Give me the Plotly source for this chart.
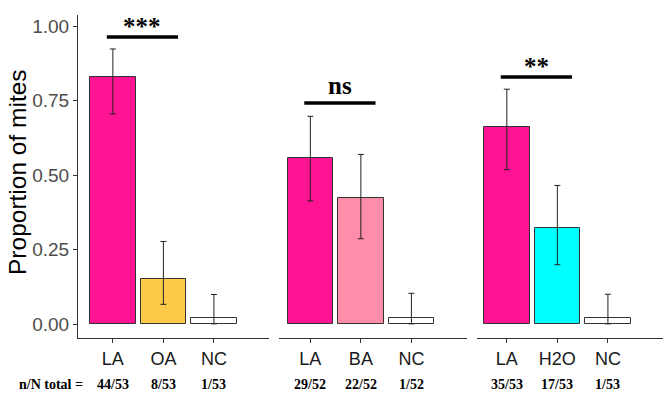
import plotly.graph_objects as go

# ---- data ----
panels = ["LA vs OA", "LA vs BA", "LA vs H2O"]
categories = [["LA", "OA", "NC"], ["LA", "BA", "NC"], ["LA", "H2O", "NC"]]
n_counts = [[44, 8, 1], [29, 22, 1], [35, 17, 1]]
N_totals = [[53, 53, 53], [52, 52, 52], [53, 53, 53]]
ci_upper = [[0.923, 0.277, 0.099], [0.697, 0.569, 0.103], [0.788, 0.465, 0.100]]
ci_lower = [[0.705, 0.066, 0.0005], [0.413, 0.286, 0.0005], [0.518, 0.199, 0.0005]]
bar_colors = [["#FF1493", "#FFC94A", "#FFFFFF"],
              ["#FF1493", "#FF8DAA", "#FFFFFF"],
              ["#FF1493", "#00FFFF", "#FFFFFF"]]
sig_labels = ["***", "ns", "**"]
sig_heights = [0.963, 0.742, 0.829]
y_ticks = [0.00, 0.25, 0.50, 0.75, 1.00]
y_ticktext = ["0.00", "0.25", "0.50", "0.75", "1.00"]

W, H = 669, 409
px_domains = [(78, 269), (279, 467), (477, 663)]
x_ranges = [[-0.69, 3.09], [-0.62, 3.1], [-0.59, 3.09]]

fig = go.Figure()
for i in range(3):
    props = [n / d for n, d in zip(n_counts[i], N_totals[i])]
    plus = [u - p for u, p in zip(ci_upper[i], props)]
    minus = [p - l for p, l in zip(props, ci_lower[i])]
    ax = "" if i == 0 else str(i + 1)
    fig.add_trace(go.Bar(
        x=[0, 1, 2], y=props, width=0.9,
        marker=dict(color=bar_colors[i], line=dict(color="#333333", width=1)),
        error_y=dict(type="data", array=plus, arrayminus=minus, color="#222222",
                     thickness=1, width=3, visible=True),
        xaxis="x" + ax, yaxis="y" + ax, showlegend=False,
    ))

layout = dict(
    width=W, height=H, margin=dict(l=0, r=0, t=0, b=0, autoexpand=False),
    paper_bgcolor="white", plot_bgcolor="white",
    font=dict(family="Liberation Sans, Arial", color="#000000"),
    bargap=0,
)
ydom = [1 - 338 / H, 1 - 15 / H]
for i in range(3):
    ax = "" if i == 0 else str(i + 1)
    d0, d1 = px_domains[i]
    layout["xaxis" + ax] = dict(
        domain=[d0 / W, d1 / W], range=x_ranges[i], automargin=False,
        tickvals=[0, 1, 2], ticktext=categories[i],
        showline=True, linecolor="#333333", linewidth=1,
        ticks="outside", ticklen=4, tickcolor="#333333",
        tickfont=dict(size=18, color="#1a1a1a"), showgrid=False, zeroline=False,
        anchor="y" + ax, fixedrange=True,
    )
    layout["yaxis" + ax] = dict(
        domain=ydom, range=[-0.047, 1.037], automargin=False,
        showgrid=False, zeroline=False, anchor="x" + ax,
        tickvals=y_ticks, ticktext=y_ticktext,
        showline=(i == 0), linecolor="#333333", linewidth=1,
        ticks="outside" if i == 0 else "", ticklen=4, tickcolor="#333333",
        showticklabels=(i == 0),
        tickfont=dict(size=19, color="#4D4D4D"),
    )
fig.update_layout(**layout)

# significance bars
shapes = []
annotations = []
for i in range(3):
    ax = "" if i == 0 else str(i + 1)
    shapes.append(dict(type="line", xref="x" + ax, yref="y" + ax,
                       x0=-0.12, x1=1.29, y0=sig_heights[i], y1=sig_heights[i],
                       line=dict(color="black", width=3.5)))
    if sig_labels[i] == "ns":
        annotations.append(dict(xref="x" + ax, yref="y" + ax, x=0.585, y=sig_heights[i] + 0.008,
                                text="<b>ns</b>", showarrow=False, yanchor="bottom",
                                font=dict(family="Liberation Serif, Times New Roman", size=25, color="black")))
    else:
        annotations.append(dict(xref="x" + ax, yref="y" + ax, x=0.585, y=sig_heights[i] - 0.018,
                                text="<b>" + sig_labels[i] + "</b>", showarrow=False, yanchor="bottom",
                                font=dict(family="Liberation Serif, Times New Roman", size=25, color="black")))
    # n/N labels
    for j in range(3):
        annotations.append(dict(xref="x" + ax, yref="paper", x=j, y=1 - 384 / H,
                                text="<b>%d/%d</b>" % (n_counts[i][j], N_totals[i][j]),
                                showarrow=False, yanchor="middle",
                                font=dict(family="Liberation Serif, Times New Roman", size=14, color="black")))

annotations.append(dict(xref="paper", yref="paper", x=17 / W, y=1 - 384 / H,
                        text="<b>n/N total =</b>", showarrow=False, xanchor="left", yanchor="middle",
                        font=dict(family="Liberation Serif, Times New Roman", size=14, color="black")))
annotations.append(dict(xref="paper", yref="paper", x=18 / W, y=1 - 172 / H,
                        text="Proportion of mites", textangle=-90, showarrow=False,
                        xanchor="center", yanchor="middle",
                        font=dict(family="Liberation Sans, Arial", size=24.5, color="black")))
fig.update_layout(shapes=shapes, annotations=annotations)

fig.write_html("out.html", config={"displayModeBar": False},
               post_script="document.body.style.margin='0';document.body.style.overflow='hidden';")
